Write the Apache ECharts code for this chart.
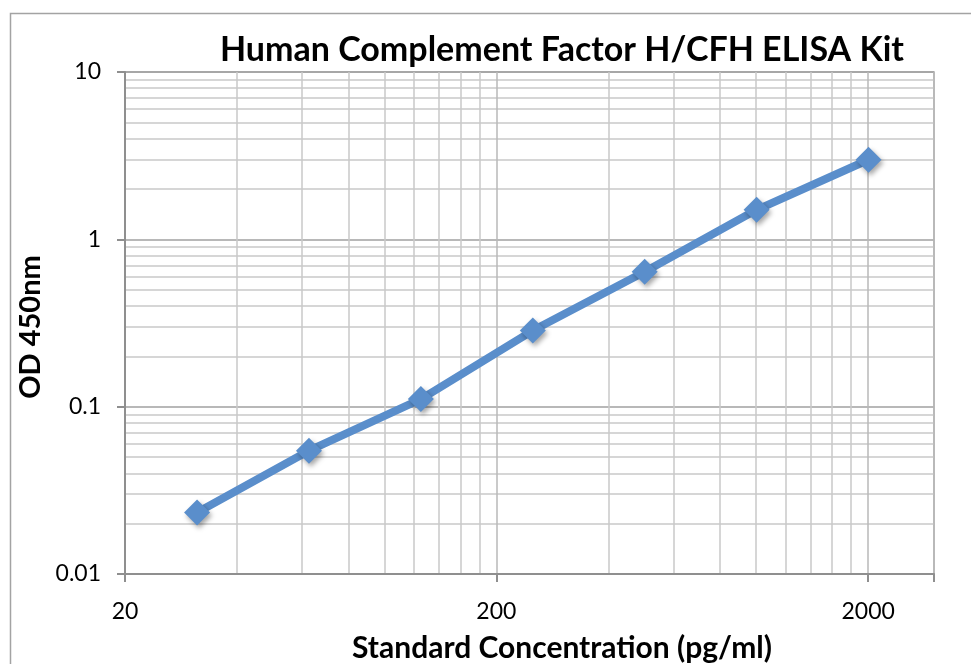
<!DOCTYPE html>
<html>
<head>
<meta charset="utf-8">
<script src="https://cdn.jsdelivr.net/npm/echarts@6/dist/echarts.min.js"></script>
<style>
  html, body { margin: 0; padding: 0; background: #ffffff; }
  #chart { width: 971px; height: 664px; }
</style>
</head>
<body>
<div id="chart"></div>
<script>
// ---- Data ----
const chartTitle = 'Human Complement Factor H/CFH ELISA Kit';
const xAxisTitle = 'Standard Concentration (pg/ml)';
const yAxisTitle = 'OD 450nm';
const concentrations = [31.25, 62.5, 125, 250, 500, 1000, 2000];   // pg/ml
const odValues = [0.0233, 0.0546, 0.111, 0.285, 0.640, 1.50, 2.99]; // OD 450nm
const xTickLabels = [20, 200, 2000];
const yTickLabels = [0.01, 0.1, 1, 10];

const xMin = 20, xMax = 3000;
const yMin = 0.01, yMax = 10;

const seriesData = concentrations.map((c, i) => [c, odValues[i]]);

const FONT = 'Lato, "Open Sans", sans-serif';
const lineBlue = '#5a8ecb';

const chart = echarts.init(document.getElementById('chart'), null, { renderer: 'canvas' });

function fmt(v) {
  return String(Number(Number(v).toPrecision(2)));
}

chart.setOption({
  backgroundColor: '#ffffff',
  animation: false,
  title: {
    text: chartTitle,
    left: 557,
    top: 28,
    textAlign: 'center',
    textStyle: { fontFamily: FONT, fontSize: 34, fontWeight: 'bold', color: '#000000' }
  },
  graphic: [{
    type: 'rect',
    shape: { x: 10.5, y: 13.5, width: 1200, height: 900 },
    style: { fill: 'none', stroke: '#a3a3a3', lineWidth: 1.5 },
    silent: true,
    z: -10
  }],
  grid: {
    left: 125, right: 37, top: 72, bottom: 90,
    outerBoundsMode: 'none',
    containLabel: false,
    show: true, borderColor: '#a8a8a8', borderWidth: 1.5, backgroundColor: 'transparent'
  },
  xAxis: {
    type: 'log',
    logBase: 10,
    min: xMin,
    max: xMax,
    interval: 1,
    name: xAxisTitle,
    nameLocation: 'middle',
    nameGap: 59,
    nameTextStyle: { fontFamily: FONT, fontSize: 30, fontWeight: 'bold', color: '#000000', padding: [0, 0, 0, 65] },
    axisLine: { show: true, lineStyle: { color: '#8f8f8f', width: 2 } },
    axisTick: { show: true, length: 8, lineStyle: { color: '#8f8f8f', width: 2 } },
    axisLabel: {
      margin: 26,
      fontFamily: FONT, fontSize: 23, color: '#000000',
      formatter: function (v) {
        const s = fmt(v);
        return xTickLabels.indexOf(Number(s)) >= 0 ? s : '';
      }
    },
    splitLine: { show: true, lineStyle: { color: '#b8b8b8', width: 1.5 } },
    minorTick: { show: false, splitNumber: 9 },
    minorSplitLine: { show: true, lineStyle: { color: '#c9c9c9', width: 1.5 } }
  },
  yAxis: {
    type: 'log',
    logBase: 10,
    min: yMin,
    max: yMax,
    interval: 1,
    name: yAxisTitle,
    nameLocation: 'middle',
    nameRotate: 90,
    nameGap: 67,
    nameTextStyle: { fontFamily: FONT, fontSize: 29, fontWeight: 'bold', color: '#000000', padding: [0, 8, 0, 0] },
    axisLine: { show: true, lineStyle: { color: '#8f8f8f', width: 2 } },
    axisTick: { show: true, length: 8, lineStyle: { color: '#8f8f8f', width: 2 } },
    axisLabel: {
      margin: 24,
      fontFamily: FONT, fontSize: 23, color: '#000000',
      formatter: function (v) {
        const s = fmt(v);
        return yTickLabels.indexOf(Number(s)) >= 0 ? s : '';
      }
    },
    splitLine: { show: true, lineStyle: { color: '#a0a0a0', width: 1.5 } },
    minorTick: { show: false, splitNumber: 9 },
    minorSplitLine: { show: true, lineStyle: { color: '#c9c9c9', width: 1.5 } }
  },
  series: [{
    type: 'line',
    data: seriesData,
    symbol: 'diamond',
    symbolSize: 26,
    lineStyle: { color: lineBlue, width: 8 },
    itemStyle: {
      color: lineBlue,
      shadowColor: 'rgba(0,0,0,0.35)',
      shadowBlur: 5,
      shadowOffsetX: 2,
      shadowOffsetY: 3
    },
    z: 5
  }]
});
</script>
</body>
</html>
